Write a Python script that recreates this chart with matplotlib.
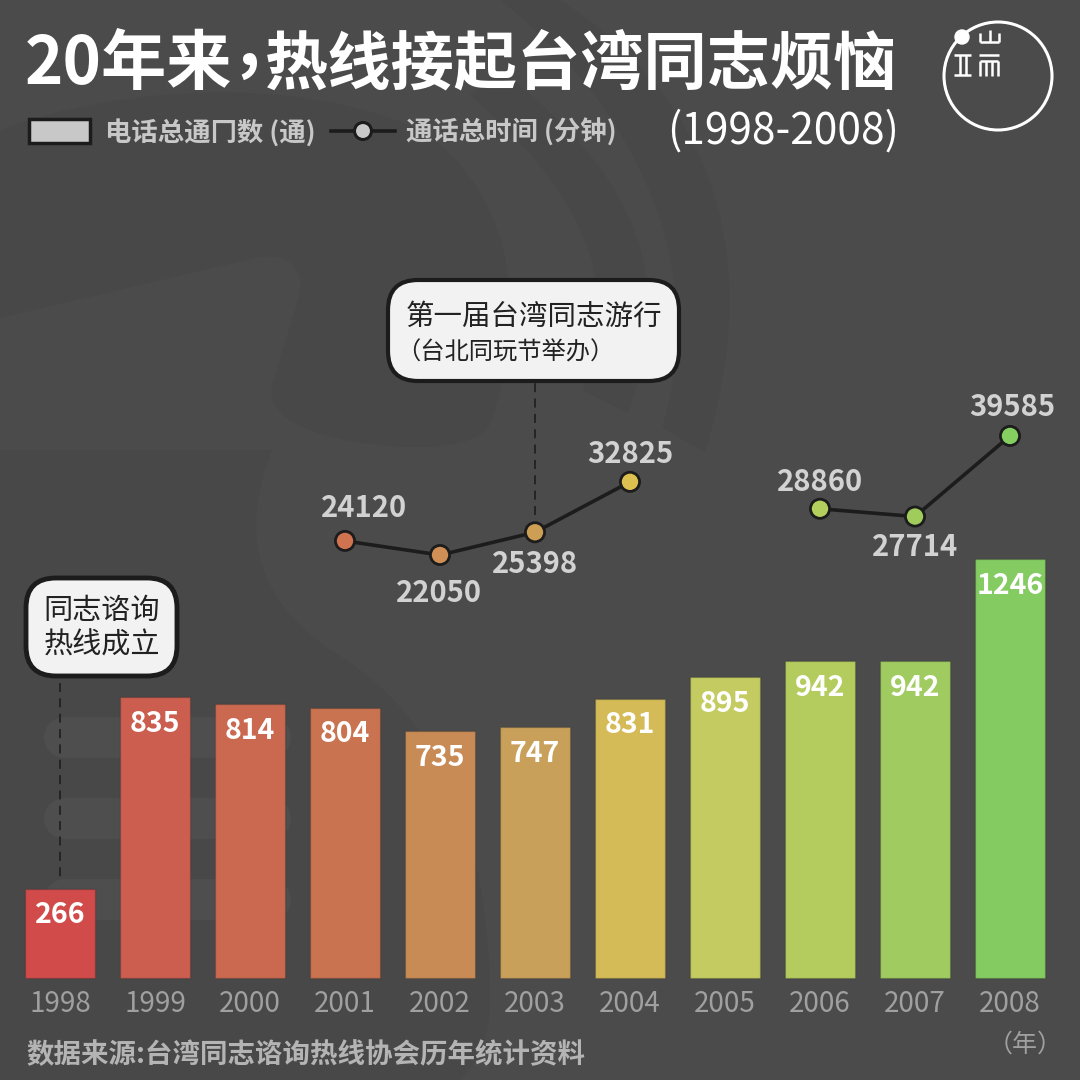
import matplotlib
matplotlib.use('Agg')
import matplotlib.pyplot as plt
from matplotlib.patches import Circle, FancyBboxPatch, PathPatch, Rectangle
from matplotlib.path import Path

plt.rcParams['font.family'] = ['Noto Sans CJK SC', 'DejaVu Sans']

years = [1998, 1999, 2000, 2001, 2002, 2003, 2004, 2005, 2006, 2007, 2008]
calls = [266, 835, 814, 804, 735, 747, 831, 895, 942, 942, 1246]
call_colors = ['#d14b4b', '#cb5e4f', '#ca6850', '#c97351', '#c98b55', '#c9a05a',
			   '#d4bb57', '#c4cb60', '#b4cc5e', '#a0cb60', '#84cb62']

minute_years_a = [2001, 2002, 2003, 2004]
minutes_a = [24120, 22050, 25398, 32825]
minute_colors_a = ['#cf7350', '#cf8f55', '#cc9f55', '#dcc050']
minute_years_b = [2006, 2007, 2008]
minutes_b = [28860, 27714, 39585]
minute_colors_b = ['#b5cf5c', '#a0cc5c', '#85cf60']

bg = '#4b4b4b'
light = '#4e4e4e'
dark = '#484848'

fig = plt.figure(figsize=(10.8, 10.8), dpi=100, facecolor=bg)

# background shapes, in pixels of the picture
back = plt.axes([0, 0, 1, 1])
back.set_xlim(0, 1080)
back.set_ylim(1080, 0)
back.axis('off')

def blob(start, segments, color):
	verts = [start]
	codes = [Path.MOVETO]
	for seg in segments:
		verts += seg
		codes += [Path.LINETO] if len(seg) == 1 else [Path.CURVE4] * 3
	verts.append(start)
	codes.append(Path.CLOSEPOLY)
	back.add_patch(PathPatch(Path(verts, codes), facecolor=color, edgecolor='none'))

blob((0, 318), [[(255, 258)], [(295, 250), (305, 275), (298, 300)], [(272, 385)],
				[(262, 425), (340, 447), (420, 447)], [(470, 447), (488, 432), (492, 420)],
				[(530, 300), (510, 190), (420, 130)], [(300, 75), (120, 85), (0, 130)]], dark)
blob((560, 0), [[(700, 90), (770, 240), (705, 452)], [(662, 428)], [(710, 270), (640, 110), (500, 0)]], dark)
blob((500, 70), [[(630, 170), (680, 270), (628, 413)], [(582, 390)], [(625, 280), (580, 190), (470, 95)]], dark)
blob((0, 450), [[(272, 450)], [(245, 520), (245, 590), (330, 650)], [(470, 730), (490, 900), (490, 1000)],
				[(490, 1040), (475, 1065), (460, 1080)], [(0, 1080)]], dark)
for y in [737, 818, 899]:
	back.plot([64, 270], [y, y], color=light, linewidth=29.5, solid_capstyle='round')
	back.plot([-50, -15], [y, y], color=light, linewidth=29.5, solid_capstyle='round')

# calls as bars, one axes over the whole picture
plt.axes([0, 0, 1, 1], facecolor='none')
plt.xlim(1998 - 60 / 95, 1998 + 1020 / 95)
plt.ylim(-102 / 0.336, 978 / 0.336)
plt.axis('off')
plt.bar(years, calls, width=70 / 95, color=call_colors, edgecolor='#00000022', linewidth=1)
for year, value in zip(years, calls):
	plt.text(year, value - 26.5 / 0.336, str(value), color='white', fontsize=20.5, fontweight='bold',
			 ha='center', va='center')
	plt.text(year, -26 / 0.336, str(year), color='#a0a0a0', fontsize=20, ha='center', va='center')
plt.text(2008.16, -197, '（年）', color='#a0a0a0', fontsize=18, ha='center', va='center')

# minutes on their own scale
plt.twinx()
plt.ylim(22050 - (1080 - 555) / 0.00679, 22050 + 555 / 0.00679)
plt.axis('off')
plt.plot([2003, 2003], [27900, 47530], color='#222222', linewidth=1.3, dashes=(5, 3.5))
plt.plot(minute_years_a, minutes_a, color='#1c1c1c', linewidth=2.6, zorder=3)
plt.plot(minute_years_b, minutes_b, color='#1c1c1c', linewidth=2.6, zorder=3)
plt.scatter(minute_years_a, minutes_a, s=190, c=minute_colors_a, edgecolors='#1c1c1c', linewidths=2, zorder=4)
plt.scatter(minute_years_b, minutes_b, s=190, c=minute_colors_b, edgecolors='#1c1c1c', linewidths=2, zorder=4)

# labels of the minutes, offsets in points
offsets = {2001: (14, 24), 2002: (-1, -27), 2003: (0, -23), 2004: (0, 20), 2006: (0, 19), 2007: (0, -22), 2008: (1.5, 21)}
for year, value in zip(minute_years_a + minute_years_b, minutes_a + minutes_b):
	plt.annotate(str(value), (year, value), xytext=offsets[year], textcoords='offset points', color='#d2d2d2',
				 fontsize=21, fontweight='bold', ha='center', va='center')

# things on top, in pixels again
top = plt.axes([0, 0, 1, 1], facecolor='none')
top.set_xlim(0, 1080)
top.set_ylim(1080, 0)
top.axis('off')

top.text(25, 65, '20年来', color='white', fontsize=47, fontweight='black', ha='left', va='center')
top.text(249, 65, ',', color='white', fontsize=50, fontweight='black', ha='center', va='baseline')
top.text(897, 65, '热线接起台湾同志烦恼', color='white', fontsize=45.5, fontweight='black', ha='right', va='center')
top.text(899, 132, '(1998-2008)', color='white', fontsize=30.5, ha='right', va='center')

top.add_patch(Rectangle((29, 119), 61, 24, facecolor='#c8c8c8', edgecolor='#1c1c1c', linewidth=2.5))
top.text(105, 133, '电话总通冂数 (通)', color='#c8c8c8', fontsize=19, fontweight='bold', ha='left', va='center')
top.plot([331, 395], [131, 131], color='#1c1c1c', linewidth=2.6)
top.add_patch(Circle((363, 131), 8.5, facecolor='#c8c8c8', edgecolor='#1c1c1c', linewidth=2.2, zorder=3))
top.text(406, 133, '通话总时间 (分钟)', color='#c8c8c8', fontsize=19, fontweight='bold', ha='left', va='center')

# logo
top.add_patch(Circle((998, 76), 54, facecolor='none', edgecolor='white', linewidth=2.2))
top.add_patch(Circle((962, 37), 7, color='white'))
for x0, y0, x1, y1 in [(980, 42, 999, 42), (980, 42, 980, 33), (989.5, 42, 989.5, 30), (999, 42, 999, 33),
					   (954, 55, 971, 55), (954, 75, 971, 75), (960, 55, 960, 75), (965.5, 55, 965.5, 75),
					   (979, 55, 999, 55), (980, 61, 998, 61), (980, 61, 980, 76), (986, 61, 986, 76),
					   (992, 61, 992, 76), (998, 61, 998, 76)]:
	top.plot([x0, x1], [y0, y1], color='white', linewidth=1.8, solid_capstyle='butt')

# callouts
top.add_patch(FancyBboxPatch((26, 578), 151, 98, boxstyle='round,pad=0,rounding_size=30', facecolor='#f2f2f2',
							 edgecolor='#1c1c1c', linewidth=3.5))
top.text(102, 611, '同志谘询', color='#222222', fontsize=21, ha='center', va='center')
top.text(102, 646, '热线成立', color='#222222', fontsize=21, ha='center', va='center')
top.add_patch(FancyBboxPatch((388, 280), 291, 101, boxstyle='round,pad=0,rounding_size=30', facecolor='#f2f2f2',
							 edgecolor='#1c1c1c', linewidth=3))
top.text(534, 317, '第一届台湾同志游行', color='#222222', fontsize=20.5, ha='center', va='center')
top.text(396, 352, '（台北同玩节举办）', color='#222222', fontsize=17.5, ha='left', va='center')
top.plot([59.5, 59.5], [683, 882], color='#222222', linewidth=1.3, dashes=(5, 3.5))

top.text(26, 1055, '数据来源:台湾同志谘询热线协会历年统计资料', color='#b4b4b4', fontsize=19.8, fontweight='bold',
		 ha='left', va='center')

plt.savefig('out.png', dpi=100, facecolor=bg)
